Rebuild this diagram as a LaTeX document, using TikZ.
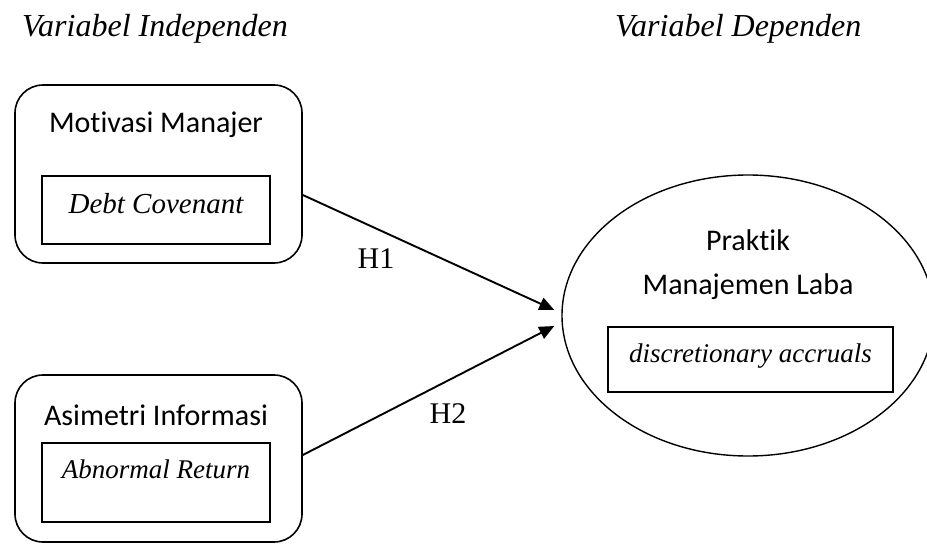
\documentclass[tikz,border=0pt]{standalone}
\usepackage{fontspec}
\setmainfont{Liberation Serif}
\newfontfamily\calfont[Ligatures=NoCommon]{Carlito}
\usetikzlibrary{arrows.meta,shapes.geometric}
\begin{document}
\begin{tikzpicture}[x=1pt,y=-1pt,
  outerbox/.style={draw,line width=1.6pt,rounded corners=28pt,minimum width=287pt,inner sep=0pt},
  innerbox/.style={draw,line width=1.6pt,inner xsep=0pt,inner ysep=0pt,align=center,font=\fontsize{27}{30}\selectfont\itshape},
  sanslabel/.style={inner sep=0pt,font=\calfont\fontsize{30}{44}\selectfont,align=center},
  title/.style={inner sep=0pt,anchor=base west,font=\fontsize{32}{36}\selectfont\itshape},
  hlabel/.style={inner sep=0pt,anchor=base,font=\fontsize{30}{32}\selectfont},
  conn/.style={line width=1.9pt,-{Triangle[length=15pt,width=13pt]}}]
\useasboundingbox (0,0) rectangle (927,544);
\fill[white] (0,0) rectangle (927,544);

\node[title] (t1) at (22,36) {Variabel Independen};
\node[title] (t2) at (615,36) {Variabel Dependen};

% box 1
\node[outerbox,minimum height=178pt] (m1) at (158.5,174) {};
\node[sanslabel] (m1t) at (156,125) {Motivasi Manajer};
\node[innerbox,minimum width=228pt,text height=37pt,text depth=31pt,font=\fontsize{29}{30}\selectfont\itshape] (m1i) at (156,210) {Debt Covenant};

% box 2
\node[outerbox,minimum height=167pt] (m2) at (158.5,458.5) {};
\node[sanslabel] (m2t) at (156,415) {Asimetri Informasi};
\node[innerbox,minimum width=228pt,text height=35pt,text depth=44pt] (m2i) at (156,482.5) {Abnormal Return};

% ellipse
\node[draw,ellipse,line width=1.4pt,minimum width=372pt,minimum height=281pt,inner sep=0pt] (pml) at (748,315.5) {};
\node[sanslabel] (pmlt) at (748,265) {Praktik\\Manajemen Laba};
\node[innerbox,minimum width=285pt,text height=35pt,text depth=30pt] (pmli) at (750.5,359.5) {discretionary accruals};

% connectors
\draw[conn] ([yshift=-21pt]m1.east) -- ([xshift=-7pt,yshift=5.5pt]pml.west);
\draw[conn] ([yshift=3.5pt]m2.east) -- ([xshift=-7pt,yshift=-10.5pt]pml.west);

\node[hlabel] (h1) at (376,268) {H1};
\node[hlabel] (h2) at (448,423) {H2};
\end{tikzpicture}
\end{document}
